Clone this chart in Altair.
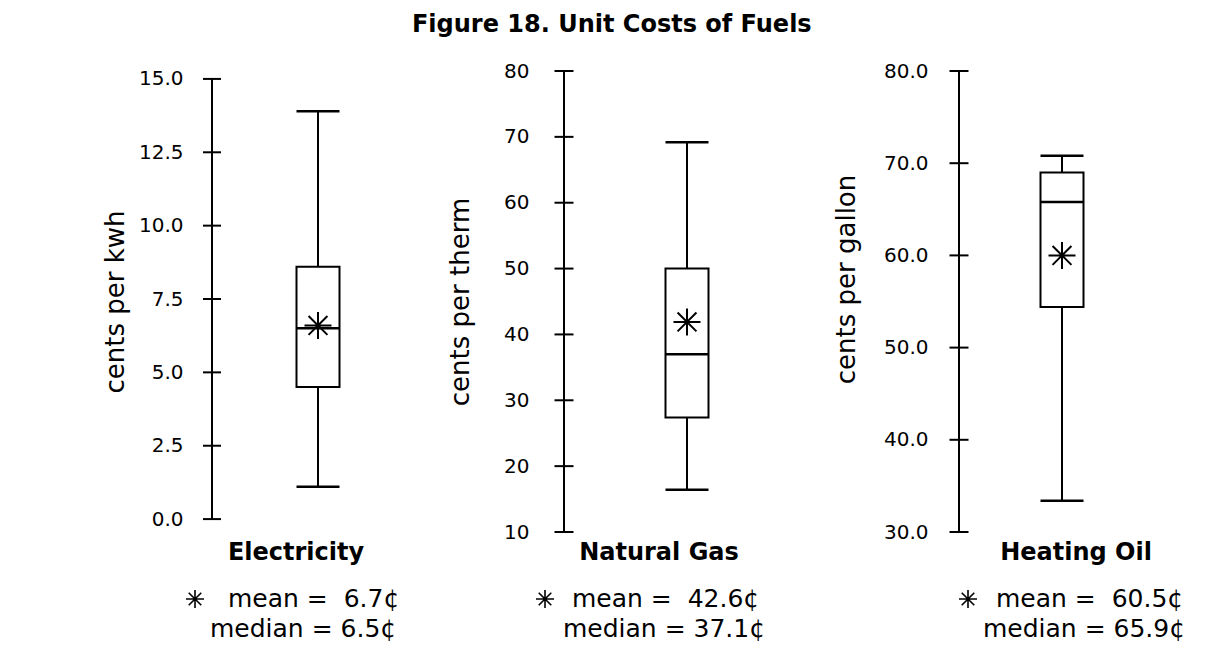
import altair as alt
import pandas as pd

# ---------------- data ----------------
fuels = ["Electricity", "Natural Gas", "Heating Oil"]
units = ["cents per kwh", "cents per therm", "cents per gallon"]
whisker_low = [1.1, 16.4, 33.4]
q1 = [4.5, 27.4, 54.4]
median = [6.5, 37.0, 65.8]
q3 = [8.6, 50.0, 69.0]
whisker_high = [13.9, 69.2, 70.8]
mean_marker = [6.6, 41.9, 60.0]
mean_text = ["mean = \u00a06.7\u00a2", "mean = \u00a042.6\u00a2", "mean = \u00a060.5\u00a2"]
median_text = ["median = 6.5\u00a2", "median = 37.1\u00a2", "median = 65.9\u00a2"]
axis_ticks = [
    [0.0, 2.5, 5.0, 7.5, 10.0, 12.5, 15.0],
    [10, 20, 30, 40, 50, 60, 70, 80],
    [30.0, 40.0, 50.0, 60.0, 70.0, 80.0],
]
axis_format = [".1f", "d", ".1f"]

# ---------------- layout / style ----------------
FONT = "DejaVu Sans"
PLOT_H = 461
scale_domain = [[-0.44, 15.27], [10, 80], [30, 80]]
panel_w = [212, 246, 206]
ylabel_pad = [29, 35, 31]
ytitle_pad = [10, 30, 24]
ytitle_y = [PLOT_H / 2, PLOT_H / 2, 208]
xlabel_offset = [-22, -28, 14]
tick_len = [18, 19, 19]
star_dx = [-123, -142, -94]
mean_dx = [-90, -115, -66]
median_dx = [-108, -124, -79]
STAR = "M0,-1L0,1M-1,0L1,0M-0.7,-0.7L0.7,0.7M-0.7,0.7L0.7,-0.7"


def panel(i):
    d = pd.DataFrame({
        "fuel": [fuels[i]],
        "lo": [whisker_low[i]], "q1": [q1[i]], "med": [median[i]],
        "q3": [q3[i]], "hi": [whisker_high[i]], "mean": [mean_marker[i]],
        "mean_text": [mean_text[i]], "median_text": [median_text[i]],
        "amin": [axis_ticks[i][0]], "amax": [axis_ticks[i][-1]],
    })
    tdf = pd.DataFrame({"v": axis_ticks[i]})
    ysc = alt.Scale(domain=scale_domain[i], nice=False, zero=False)
    xenc = alt.X(
        "fuel:N",
        scale=alt.Scale(paddingInner=0, paddingOuter=0),
        axis=alt.Axis(title=None, domain=False, ticks=False, labelAngle=0,
                      labelFontSize=24, labelFontWeight="bold", labelColor="black",
                      labelPadding=8, labelOffset=xlabel_offset[i], labelFont=FONT),
    )
    yaxis = alt.Axis(values=axis_ticks[i], format=axis_format[i], domain=False,
                     ticks=False, grid=False, labelFontSize=20, labelColor="black",
                     labelFont=FONT, labelPadding=ylabel_pad[i], labelFlush=False,
                     labelOverlap=False, title=units[i], titleFontSize=26,
                     titleFontWeight="normal", titleColor="black", titleFont=FONT,
                     titlePadding=ytitle_pad[i], titleY=ytitle_y[i])
    base = alt.Chart(d)
    box = base.mark_bar(size=43, fill="white", stroke="black", strokeWidth=2,
                        opacity=1).encode(
        x=xenc, y=alt.Y("q1:Q", scale=ysc, axis=yaxis), y2="q3:Q")
    w_low = base.mark_rule(color="black", strokeWidth=2, opacity=1).encode(
        x=xenc, y="lo:Q", y2="q1:Q")
    w_high = base.mark_rule(color="black", strokeWidth=2, opacity=1).encode(
        x=xenc, y="q3:Q", y2="hi:Q")
    caps = [
        base.mark_tick(orient="horizontal", size=43, thickness=2.5, color="black",
                       opacity=1).encode(x=xenc, y=f"{c}:Q")
        for c in ["lo", "hi", "med"]
    ]
    star = base.mark_point(shape=STAR, size=729, filled=False, stroke="black",
                           strokeWidth=2, opacity=1).encode(x=xenc, y="mean:Q")
    axis_line = base.mark_rule(color="black", strokeWidth=2, opacity=1).encode(
        x=alt.value(0), y="amin:Q", y2="amax:Q")
    ticks = alt.Chart(tdf).mark_tick(orient="horizontal", size=tick_len[i], thickness=2,
                                     color="black", opacity=1).encode(
        y="v:Q", x=alt.value(0))
    leg_star = base.mark_point(shape=STAR, size=324, filled=False, stroke="black",
                               strokeWidth=1.6, opacity=1, xOffset=star_dx[i]).encode(
        x=xenc, y=alt.value(PLOT_H + 67))
    leg_mean = base.mark_text(align="left", baseline="middle", fontSize=25, font=FONT,
                              color="black", dx=mean_dx[i]).encode(
        x=xenc, y=alt.value(PLOT_H + 67), text="mean_text:N")
    leg_median = base.mark_text(align="left", baseline="middle", fontSize=25, font=FONT,
                                color="black", dx=median_dx[i]).encode(
        x=xenc, y=alt.value(PLOT_H + 97), text="median_text:N")
    return alt.layer(w_low, w_high, box, *caps, star, axis_line, ticks,
                     leg_star, leg_mean, leg_median).properties(
        width=panel_w[i], height=PLOT_H)


chart = alt.hconcat(*[panel(i) for i in range(3)], spacing=23).properties(
    title=alt.TitleParams("Figure 18. Unit Costs of Fuels", fontSize=24,
                          fontWeight="bold", font=FONT, anchor="middle",
                          offset=24, dx=-32, color="black"),
    padding={"left": 94, "top": 5, "right": 5, "bottom": 0},
).configure(background="white", view=alt.ViewConfig(stroke=None))

chart.save("out.html", embed_options={"renderer": "svg", "actions": False})
